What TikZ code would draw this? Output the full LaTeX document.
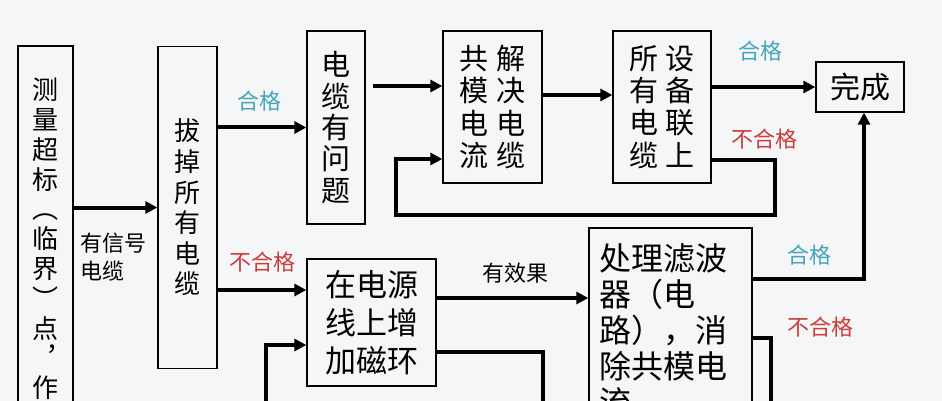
\documentclass[tikz,border=0pt]{standalone}
\usepackage{fontspec}
\newfontfamily\cjk{Noto Sans CJK SC}
\usetikzlibrary{arrows.meta,calc}
\definecolor{okcyan}{RGB}{70,165,185}
\definecolor{ngred}{RGB}{205,60,60}
\definecolor{bggray}{RGB}{245,246,248}

\begin{document}
\begin{tikzpicture}[x=1pt,y=1pt,yscale=-1,xscale=1,
    box/.style={draw, line width=1.3pt, inner sep=0pt, align=center},
    flow/.style={line width=4pt, -{Triangle[length=12pt,width=12pt]}},
    wire/.style={line width=4pt},
    oklab/.style={text=okcyan, inner sep=0pt, font=\cjk\fontsize{22}{24}\selectfont},
    nglab/.style={text=ngred, inner sep=0pt, font=\cjk\fontsize{22}{24}\selectfont},
    note/.style={inner sep=0pt, align=left, font=\cjk\fontsize{22}{28}\selectfont}]
        \useasboundingbox (0,0) rectangle (942,401);
        \fill[bggray] (0,0) rectangle (942,401);
        \clip (0,0) rectangle (942,401);

        %Shape: Rectangle
        \node[box, minimum width=55pt, minimum height=386pt, font=\cjk\fontsize{26}{29.8}\selectfont] (meas) at (45.5,239) {测\\量\\超\\标\\︵\\临\\界\\︶\\点\\︐\\作};
        %Shape: Rectangle
        \node[box, minimum width=59pt, minimum height=322pt, font=\cjk\fontsize{26}{30.6}\selectfont] (unplug) at (187.5,207.5) {拔\\掉\\所\\有\\电\\缆};
        %Shape: Rectangle
        \node[box, minimum width=58pt, minimum height=193pt, font=\cjk\fontsize{29}{31.3}\selectfont] (cable) at (336,127.5) {电\\缆\\有\\问\\题};
        %Shape: Rectangle
        \node[box, minimum width=99pt, minimum height=152pt, font=\cjk\fontsize{29}{32.3}\selectfont] (cmode) at (492.5,107) {共\hspace{8pt}解\\模\hspace{8pt}决\\电\hspace{8pt}电\\流\hspace{8pt}缆};
        %Shape: Rectangle
        \node[box, minimum width=98pt, minimum height=152pt, font=\cjk\fontsize{29}{32.3}\selectfont] (allon) at (662,107) {所\hspace{8pt}设\\有\hspace{8pt}备\\电\hspace{8pt}联\\缆\hspace{8pt}上};
        %Shape: Rectangle
        \node[box, minimum width=88pt, minimum height=50pt, font=\cjk\fontsize{30}{32}\selectfont] (done) at (860,87) {完成};
        %Shape: Rectangle
        \node[box, minimum width=129pt, minimum height=127pt, font=\cjk\fontsize{31}{38}\selectfont] (ring) at (371.5,322.5) {在电源\\线上增\\加磁环};
        %Shape: Rectangle
        \node[box, minimum width=163pt, minimum height=204pt, text width=142pt, align=left, font=\cjk\fontsize{32}{36}\selectfont] (filter) at (670.5,330) {处理滤波\\器（电\\路），消\\除共模电\\流};

        % Points on the boxes
        \coordinate (ringin) at ($(ring.west)+(0,-32.5)$);
        \coordinate (ringloop) at ($(ring.west)+(0,22.5)$);
        \coordinate (loopin) at (266,420);
        \coordinate (cmin) at ($(cmode.west)+(0,-21)$);
        \coordinate (eqin) at ($(allon.west)+(0,-12)$);
        \coordinate (allout) at ($(allon.east)+(0,53)$);
        \coordinate (cmback) at ($(cmode.west)+(0,52)$);
        \coordinate (fbturn) at (775,215);
        \coordinate (fbleft) at (396,215);
        \coordinate (ringout) at ($(ring.east)+(0,-24.5)$);
        \coordinate (ringdown) at ($(ring.east)+(0,29.5)$);
        \coordinate (ringdrop) at (543,420);
        \coordinate (filterok) at ($(filter.east)+(0,-51)$);
        \coordinate (doneup) at ($(done.south)+(4,0)$);
        \coordinate (filterng) at ($(filter.east)+(0,8)$);
        \coordinate (filterdrop) at (771,420);

        %Straight Lines
        \draw[flow] (meas.east |- unplug.west) -- (unplug.west);
        \draw[flow] (unplug.east |- cable.west) -- (cable.west);
        \draw[flow] (unplug.east |- ringin) -- (ringin);
        \draw[flow] (loopin) |- (ringloop);
        \draw[flow, shorten <=7pt] (cable.east |- cmin) -- (cmin);
        \draw[flow] (cmode.east |- eqin) -- (eqin);
        \draw[flow] (allon.east |- done.west) -- (done.west);
        \draw[flow] (allout) -| (fbturn) -- (fbleft) |- (cmback);
        \draw[flow] (ringout) -- (ringout -| filter.west);
        \draw[wire] (ringdown) -| (ringdrop);
        \draw[flow] (filterok) -| (doneup);
        \draw[wire] (filterng) -| (filterdrop);

        % Text Node
        \node[oklab] (ok1) at (259,101) {合格};
        % Text Node
        \node[nglab] (ng1) at (262,262) {不合格};
        % Text Node
        \node[oklab] (ok2) at (760,51) {合格};
        % Text Node
        \node[nglab] (ng2) at (764,139) {不合格};
        % Text Node
        \node[oklab] (ok3) at (809,255) {合格};
        % Text Node
        \node[nglab] (ng3) at (820,327) {不合格};
        % Text Node
        \node[note, anchor=west] (sig) at (80,257) {有信号\\电缆};
        % Text Node
        \node[note] (effect) at (515,273) {有效果};
\end{tikzpicture}
\end{document}
